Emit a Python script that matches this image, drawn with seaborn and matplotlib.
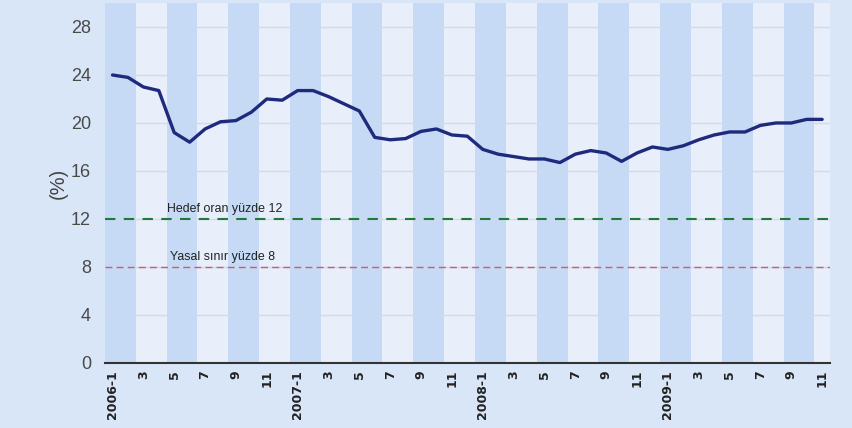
import matplotlib
matplotlib.use("Agg")
import matplotlib.pyplot as plt
import seaborn as sns
import pandas as pd
import numpy as np

years = ["2006", "2007", "2008", "2009"]
months = list(range(1, 13))
periods = [f"{y}-{m}" for y in years for m in months][:47]
values = [24.0, 23.8, 23.0, 22.7, 19.2, 18.4, 19.5, 20.1, 20.2, 20.9, 22.0, 21.9,
          22.7, 22.7, 22.2, 21.6, 21.0, 18.8, 18.6, 18.7, 19.3, 19.5, 19.0, 18.9,
          17.8, 17.4, 17.2, 17.0, 17.0, 16.7, 17.4, 17.7, 17.5, 16.8, 17.5, 18.0,
          17.8, 18.1, 18.6, 19.0, 19.25, 19.25, 19.8, 20.0, 20.0, 20.3, 20.3]
target_value = 12
target_label = "Hedef oran yüzde 12"
legal_value = 8
legal_label = "Yasal sınır yüzde 8"
y_ticks = [0, 4, 8, 12, 16, 20, 24, 28]

tick_labels = []
for p in periods:
    y, m = p.split("-")
    m = int(m)
    if m == 1:
        tick_labels.append(p)
    elif m % 2 == 1:
        tick_labels.append(str(m))
    else:
        tick_labels.append("")

df = pd.DataFrame({"idx": np.arange(len(periods)), "period": periods, "value": values})

sns.set_style("white")
plt.rcParams['font.family'] = ['Liberation Sans', 'DejaVu Sans']

fig = plt.figure(figsize=(8.52, 4.28), dpi=100)
fig.patch.set_facecolor("#d9e6f8")
ax = fig.add_axes([0.123, 0.152, 0.851, 0.841])
ax.set_facecolor("#e3ecf9")

n = len(periods)
for k in range(0, n, 4):
    ax.axvspan(k - 0.5, k + 1.5, color="#c6daf5", zorder=0, lw=0)
for k in range(2, n, 4):
    ax.axvspan(k - 0.5, k + 1.5, color="#e8eefa", zorder=0, lw=0)

for t in y_ticks[1:]:
    ax.axhline(t, color="#d0dae8", lw=1.0, zorder=1)

sns.lineplot(data=df, x="idx", y="value", ax=ax, color="#1e2a7c", lw=2.4, zorder=4)

ax.axhline(target_value, color="#1f7a3a", lw=1.5, ls=(0, (5, 4)), zorder=3)
ax.axhline(legal_value, color="#d0587a", lw=1.0, ls=(0, (5, 3)), zorder=3)
ax.text(7.25, target_value + 0.35, target_label, fontsize=8.9, color="#222222",
        ha="center", va="bottom", zorder=5)
ax.text(7.15, legal_value + 0.35, legal_label, fontsize=8.9, color="#222222",
        ha="center", va="bottom", zorder=5)

ax.set_xlim(-0.5, n - 0.5)
ax.set_ylim(0, 30)
ax.set_yticks(y_ticks)
ax.set_yticklabels([str(t) for t in y_ticks], fontsize=13, color="#4a4a4a")
ax.set_xticks(df["idx"])
ax.set_xticklabels(tick_labels, rotation=90, fontsize=9, color="#222222",
                   fontweight="bold", family=['DejaVu Sans'])
ax.tick_params(axis="x", length=4, width=0.8, color="#333333", direction="in", pad=5)
ax.tick_params(axis="y", length=0, pad=10)
ax.set_xlabel("")
ax.set_ylabel("(%)", fontsize=14.5, color="#444444", labelpad=2)

for s in ["top", "right", "left"]:
    ax.spines[s].set_visible(False)
ax.spines["bottom"].set_color("#333333")
ax.spines["bottom"].set_linewidth(1.5)
ax.spines["bottom"].set_zorder(6)

fig.savefig("out.png", dpi=100, facecolor=fig.get_facecolor())
